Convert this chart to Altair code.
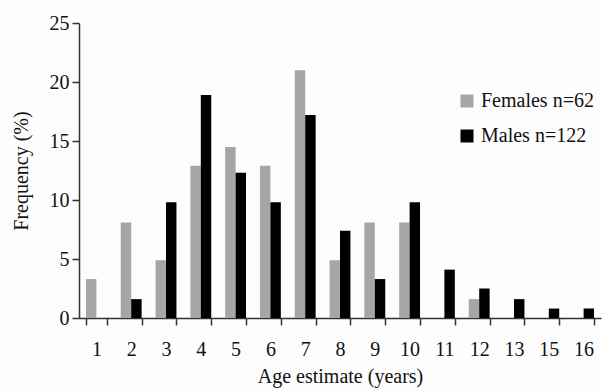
import altair as alt
import pandas as pd

ages = ["1", "2", "3", "4", "5", "6", "7", "8", "9", "10", "11", "12", "13", "15", "16"]
females = [3.3, 8.1, 4.9, 12.9, 14.5, 12.9, 21.0, 4.9, 8.1, 8.1, 0, 1.6, 0, 0, 0]
males = [0, 1.6, 9.8, 18.9, 12.3, 9.8, 17.2, 7.4, 3.3, 9.8, 4.1, 2.5, 1.6, 0.8, 0.8]
series = ["Females n=62", "Males n=122"]
colors = ["#a6a6a6", "#000000"]

rows = []
for a, f, m in zip(ages, females, males):
    rows.append({"age": a, "sex": series[0], "freq": f})
    rows.append({"age": a, "sex": series[1], "freq": m})
df = pd.DataFrame(rows)

FONT = "Liberation Serif, Times New Roman, serif"

chart = alt.Chart(df).mark_bar().encode(
    x=alt.X("age:N", sort=ages, title="Age estimate (years)",
            scale=alt.Scale(paddingInner=0.4, paddingOuter=0.2),
            axis=alt.Axis(labelAngle=0, tickBand="extent", labelPadding=14,
                          titlePadding=7)),
    xOffset=alt.XOffset("sex:N", sort=series),
    y=alt.Y("freq:Q", title="Frequency (%)",
            scale=alt.Scale(domain=[0, 25], nice=False),
            axis=alt.Axis(values=[0, 5, 10, 15, 20, 25], grid=False,
                          labelPadding=3, titlePadding=18)),
    color=alt.Color("sex:N", sort=series,
                    scale=alt.Scale(domain=series, range=colors),
                    legend=alt.Legend(title=None, orient="none", legendX=378, legendY=68,
                                      symbolType="square", symbolSize=169,
                                      symbolStrokeWidth=0, labelFontSize=20,
                                      labelFont=FONT, labelColor="#111",
                                      rowPadding=15, labelOffset=4)),
).properties(
    width=522, height=295,
    autosize=alt.AutoSizeParams(type="none"),
    padding={"left": 79, "top": 23, "right": 2, "bottom": 72},
    background="#fdfdfd",
).configure_view(stroke=None).configure_axis(
    labelFont=FONT, titleFont=FONT, labelFontSize=20, titleFontSize=20,
    titleFontWeight="normal", labelColor="#111", titleColor="#111",
    domainColor="#333", tickColor="#333", tickSize=7, domainWidth=1.5, tickWidth=1.5,
)

chart.save("out.html", embed_options={"renderer": "svg", "actions": False})
